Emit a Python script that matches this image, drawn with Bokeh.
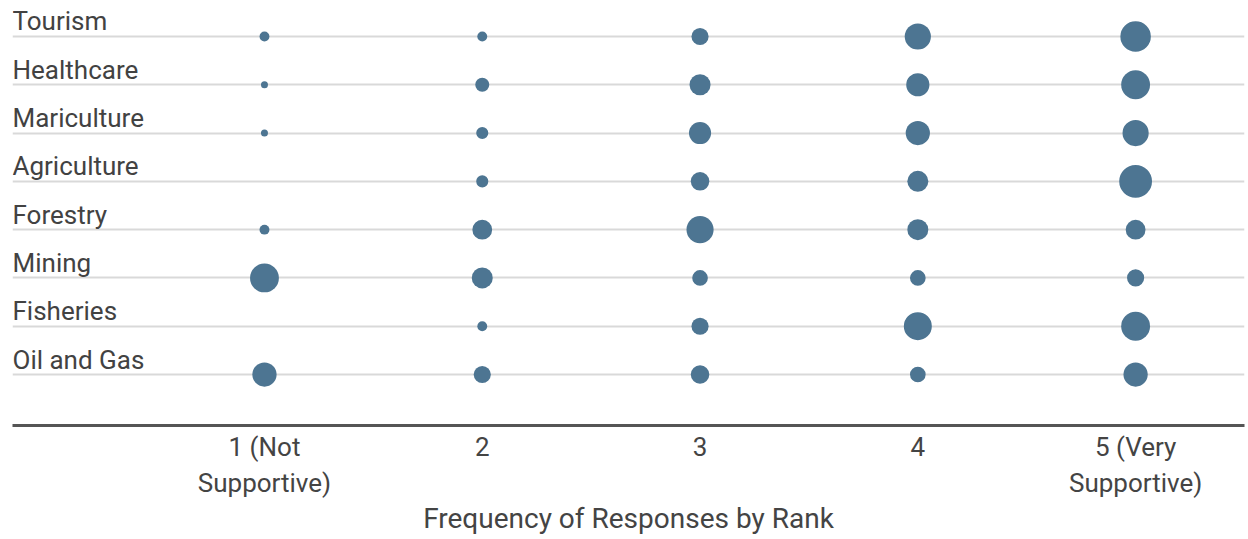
from bokeh.plotting import figure
from bokeh.models import Range1d, FixedTicker, ColumnDataSource
from bokeh.core.properties import value
from bokeh.embed import file_html
from bokeh.resources import INLINE
import numpy as np

# Data: frequency of responses per rank
sectors = ["Tourism", "Healthcare", "Mariculture", "Agriculture",
           "Forestry", "Mining", "Fisheries", "Oil and Gas"]
ranks = [1, 2, 3, 4, 5]
rank_labels = ["1 (Not\nSupportive)", "2", "3", "4", "5 (Very\nSupportive)"]
tourism = [2, 2, 6, 14, 19]
healthcare = [1, 4, 9, 11, 17]
mariculture = [1, 3, 10, 12, 14]
agriculture = [0, 3, 7, 9, 22]
forestry = [2, 8, 15, 9, 8]
mining = [17, 9, 5, 5, 6]
fisheries = [0, 2, 6, 16, 17]
oil_and_gas = [12, 6, 7, 5, 12]

series = [tourism, healthcare, mariculture, agriculture,
          forestry, mining, fisheries, oil_and_gas]

n_rows = len(sectors)
row_pos = {s: n_rows - 1 - i for i, s in enumerate(sectors)}

xs, ys, counts = [], [], []
for s, vals in zip(sectors, series):
    for r, v in zip(ranks, vals):
        if v > 0:
            xs.append(r)
            ys.append(row_pos[s])
            counts.append(v)
sizes = [7.0 * np.sqrt(c) for c in counts]
src = ColumnDataSource(dict(x=xs, y=ys, count=counts, size=sizes))

x_start = -0.157
p = figure(frame_width=1232, frame_height=425, output_backend="svg", toolbar_location=None,
           x_range=Range1d(x_start, 5.5), y_range=Range1d(-1.056, 7.745),
           min_border_left=12, min_border_right=4, min_border_top=0, min_border_bottom=0)
p.outline_line_color = None
p.background_fill_color = "white"
p.border_fill_color = "white"
p.xgrid.visible = False
p.ygrid.visible = False
p.yaxis.visible = False

rows = [row_pos[s] for s in sectors]
p.hspan(y=rows, line_color="#d9d9d9", line_width=2)

p.scatter(x="x", y="y", size="size", source=src, fill_color="#4d7592",
          line_color=None, marker="circle")

p.text(x=[x_start] * n_rows, y=rows, text=sectors, text_baseline="alphabetic",
       text_align="left", x_offset=0, y_offset=-15,
       text_font=value("Roboto"), text_font_size="26px", text_color="#424242")

ax = p.xaxis[0]
ax.ticker = FixedTicker(ticks=ranks)
ax.major_label_overrides = {r: l for r, l in zip(ranks, rank_labels)}
ax.major_tick_line_color = None
ax.major_tick_out = 0
ax.major_tick_in = 0
ax.minor_tick_line_color = None
ax.minor_tick_out = 0
ax.axis_line_color = "#555555"
ax.axis_line_width = 3
ax.major_label_text_font = "Roboto"
ax.major_label_text_font_size = "26px"
ax.major_label_text_color = "#444444"
ax.major_label_standoff = 6
ax.axis_label = "Frequency of Responses by Rank"
ax.axis_label_text_font = "Roboto"
ax.axis_label_text_font_size = "28px"
ax.axis_label_text_font_style = "normal"
ax.axis_label_text_color = "#444444"
ax.axis_label_standoff = 1

open("out.html", "w").write(file_html(p, INLINE))
